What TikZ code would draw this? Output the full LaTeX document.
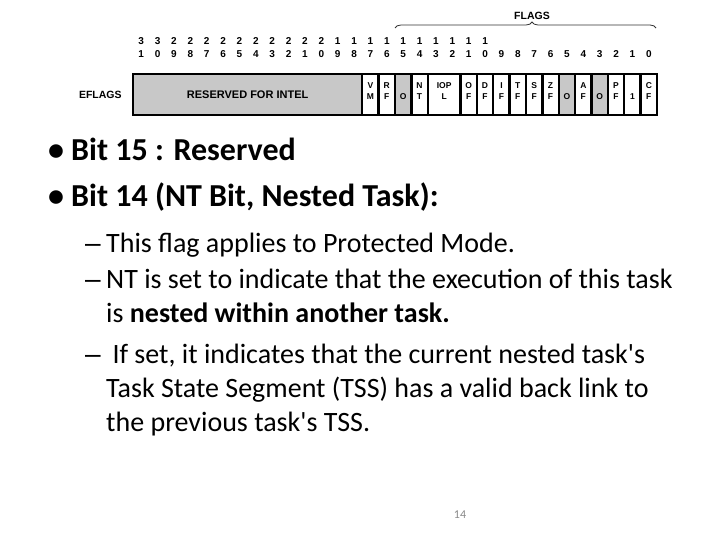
\documentclass[tikz,border=0pt]{standalone}
\usepackage{fontspec}
\setmainfont{Carlito}
\newfontfamily\regfont{Liberation Sans}
\usetikzlibrary{positioning,decorations.pathreplacing}
\definecolor{regfill}{RGB}{200,200,200}
\definecolor{pagegray}{RGB}{137,137,137}

\begin{document}
\begin{tikzpicture}[x=1pt,y=-1pt,
    cell/.style={draw, line width=2.4pt, inner sep=0pt, minimum height=41pt},
    flagtext/.style={font=\regfont\bfseries\fontsize{8.5}{10}\selectfont, inner sep=0pt},
    bitno/.style={font=\regfont\bfseries\fontsize{10}{12}\selectfont, inner sep=0pt},
    regtext/.style={font=\regfont\bfseries\fontsize{10.5}{12}\selectfont, inner sep=0pt},
    lvlone/.style={anchor=base west, inner sep=0pt, font=\fontsize{32}{38}\selectfont\bfseries},
    lvltwo/.style={anchor=base west, inner sep=0pt, align=left, font=\fontsize{28}{34}\selectfont}]
    \useasboundingbox (0,0) rectangle (720,540);

    \node[cell, regtext, fill=regfill, minimum width=14*16.375pt, font=\regfont\bfseries\fontsize{11}{13}\selectfont] (rsv) at ({657-16.375*25},94.5) {RESERVED FOR INTEL};
    \node[regtext, left=10pt of rsv] (eflags) {EFLAGS};

    \foreach \lo/\n/\fc/\up/\dn in {17/1/white/V/M, 16/1/white/R/F, 15/1/regfill//O, 14/1/white/N/T,
        12/2/white/IOP/L, 11/1/white/O/F, 10/1/white/D/F, 9/1/white/I/F, 8/1/white/T/F, 7/1/white/S/F,
        6/1/white/Z/F, 5/1/regfill//O, 4/1/white/A/F, 3/1/regfill//O, 2/1/white/P/F, 1/1/white//1, 0/1/white/C/F}
        \node[cell, fill=\fc, minimum width=\n*16.375pt,
            label={[flagtext, yshift=8.5pt]center:\up},
            label={[flagtext, yshift=-2pt]center:\dn}] (b\lo) at ({657-16.375*(\lo+\n/2)},94.5) {};

    \foreach \b in {0,...,31} {
        \pgfmathtruncatemacro{\tens}{\b/10}
        \pgfmathtruncatemacro{\units}{mod(\b,10)}
        \node[bitno] (u\b) at ({657-16.375*(\b+0.5)},54) {\units};
        \ifnum\b>9 \node[bitno] (t\b) at ({657-16.375*(\b+0.5)},41) {\tens}; \fi
    }

    \coordinate (fl) at (395,28);
    \coordinate (fr) at (656,28);
    \draw[decorate, decoration={brace, amplitude=6pt, aspect=0.525}, line width=0.8pt, black!80] (fl) -- (fr);
    \node[regtext] (flags) at (532,16) {FLAGS};

    \node[lvlone] (rsvd) at (50,161) {\makebox[12pt][c]{•}\hspace{9pt}Bit 15 : Reserved};
    \node[lvlone] (nt) at (50,207) {\makebox[12pt][c]{•}\hspace{9pt}Bit 14 (NT Bit, Nested Task):};
    \node[lvltwo] (pm) at (85,252) {\makebox[21pt][l]{\regfont –}This flag applies to Protected Mode.};
    \node[lvltwo] (nest) at (85,322) {\makebox[21pt][l]{\regfont –}NT is set to indicate that the execution of this task\\
        \hspace*{21pt}is \textbf{nested within another task.}};
    \node[lvltwo] (tss) at (85,431) {\makebox[21pt][l]{\regfont –} If set, it indicates that the current nested task\textquotesingle s\\
        \hspace*{21pt}Task State Segment (TSS) has a valid back link to\\
        \hspace*{21pt}the previous task\textquotesingle s TSS.};
    \node[font=\fontsize{12}{14}\selectfont, text=pagegray] (pg) at (460,515) {14};
\end{tikzpicture}
\end{document}
